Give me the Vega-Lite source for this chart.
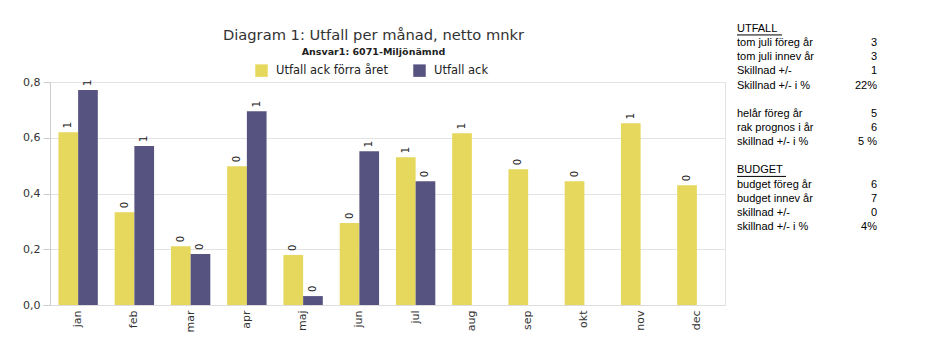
{
  "$schema": "https://vega.github.io/schema/vega-lite/v6.json",
  "background": "white",
  "padding": {"left": 22, "top": 22, "right": 5, "bottom": 5},
  "spacing": 10,
  "config": {
    "font": "DejaVu Sans",
    "view": {"stroke": null},
    "axis": {"labelColor": "#333333", "labelFontSize": 11, "labelFont": "DejaVu Sans", "domainColor": "#cccccc", "tickColor": "#cccccc", "gridColor": "#e3e3e3", "title": null}
  },
  "hconcat": [
    {
      "width": 675,
      "height": 223,
      "view": {"stroke": "#e3e3e3"},
      "title": {
        "text": "Diagram 1: Utfall per månad, netto mnkr",
        "subtitle": "Ansvar1: 6071-Miljönämnd",
        "fontSize": 14.7,
        "fontWeight": "normal",
        "color": "#333333",
        "subtitleFontSize": 9.5,
        "subtitleFontWeight": "bold",
        "subtitleColor": "#222222",
        "subtitlePadding": 4,
        "anchor": "middle",
        "dx": -14,
        "offset": 20
      },
      "data": {
        "values": [
          {"month": "jan", "series": "Utfall ack förra året", "value": 0.62, "label": "1"},
          {"month": "jan", "series": "Utfall ack", "value": 0.771, "label": "1"},
          {"month": "feb", "series": "Utfall ack förra året", "value": 0.333, "label": "0"},
          {"month": "feb", "series": "Utfall ack", "value": 0.57, "label": "1"},
          {"month": "mar", "series": "Utfall ack förra året", "value": 0.211, "label": "0"},
          {"month": "mar", "series": "Utfall ack", "value": 0.183, "label": "0"},
          {"month": "apr", "series": "Utfall ack förra året", "value": 0.498, "label": "0"},
          {"month": "apr", "series": "Utfall ack", "value": 0.695, "label": "1"},
          {"month": "maj", "series": "Utfall ack förra året", "value": 0.179, "label": "0"},
          {"month": "maj", "series": "Utfall ack", "value": 0.032, "label": "0"},
          {"month": "jun", "series": "Utfall ack förra året", "value": 0.294, "label": "0"},
          {"month": "jun", "series": "Utfall ack", "value": 0.552, "label": "1"},
          {"month": "jul", "series": "Utfall ack förra året", "value": 0.53, "label": "1"},
          {"month": "jul", "series": "Utfall ack", "value": 0.444, "label": "0"},
          {"month": "aug", "series": "Utfall ack förra året", "value": 0.616, "label": "1"},
          {"month": "sep", "series": "Utfall ack förra året", "value": 0.487, "label": "0"},
          {"month": "okt", "series": "Utfall ack förra året", "value": 0.444, "label": "0"},
          {"month": "nov", "series": "Utfall ack förra året", "value": 0.652, "label": "1"},
          {"month": "dec", "series": "Utfall ack förra året", "value": 0.43, "label": "0"}
        ]
      },
      "encoding": {
        "x": {
          "field": "month",
          "type": "nominal",
          "sort": ["jan", "feb", "mar", "apr", "maj", "jun", "jul", "aug", "sep", "okt", "nov", "dec"],
          "scale": {"paddingInner": 0.3, "paddingOuter": 0.15},
          "axis": {"labelAngle": 270, "ticks": false, "labelPadding": 5, "domainColor": "#dddddd"}
        },
        "xOffset": {"field": "series", "type": "nominal", "sort": ["Utfall ack förra året", "Utfall ack"]},
        "y": {
          "field": "value",
          "type": "quantitative",
          "scale": {"domain": [0, 0.8], "nice": false},
          "axis": {"values": [0, 0.2, 0.4, 0.6, 0.8], "labelExpr": "replace(format(datum.value, '.1f'), '.', ',')", "tickSize": 7, "labelPadding": 3, "domainColor": "#cccccc"}
        }
      },
      "layer": [
        {
          "mark": {"type": "bar"},
          "encoding": {
            "color": {
              "field": "series",
              "type": "nominal",
              "sort": ["Utfall ack förra året", "Utfall ack"],
              "scale": {"domain": ["Utfall ack förra året", "Utfall ack"], "range": ["#E6D85C", "#575381"]},
              "legend": {
                "title": null,
                "orient": "none",
                "direction": "horizontal",
                "legendX": 205,
                "legendY": -18,
                "symbolType": "square",
                "symbolSize": 156,
                "symbolStrokeWidth": 0,
                "labelFontSize": 11.5,
                "labelColor": "#222222",
                "labelOffset": 8,
                "columnPadding": 25
              }
            }
          }
        },
        {
          "mark": {"type": "text", "angle": 270, "align": "left", "baseline": "middle", "dx": 4, "fontSize": 10, "color": "#222222"},
          "encoding": {"text": {"field": "label"}}
        }
      ]
    },
    {
      "width": 145,
      "height": 145,
      "data": {
        "values": [
          {"row": 0, "label": "UTFALL ", "value": ""},
          {"row": 1, "label": "tom  juli föreg år", "value": "3"},
          {"row": 2, "label": "tom  juli innev år", "value": "3"},
          {"row": 3, "label": "Skillnad +/-", "value": "1"},
          {"row": 4, "label": "Skillnad +/- i %", "value": "22%"},
          {"row": 6, "label": "helår föreg år", "value": "5"},
          {"row": 7, "label": "rak prognos i år", "value": "6"},
          {"row": 8, "label": "skillnad +/- i %", "value": "5 %"},
          {"row": 10, "label": "BUDGET ", "value": ""},
          {"row": 11, "label": "budget föreg år", "value": "6"},
          {"row": 12, "label": "budget innev år", "value": "7"},
          {"row": 13, "label": "skillnad +/-", "value": "0"},
          {"row": 14, "label": "skillnad +/- i %", "value": "4%"}
        ]
      },
      "encoding": {
        "y": {"field": "row", "type": "quantitative", "scale": {"domain": [3.75, 14], "reverse": true, "nice": false, "zero": false}, "axis": null}
      },
      "layer": [
        {
          "mark": {"type": "text", "align": "left", "baseline": "middle", "font": "Liberation Sans", "fontSize": 11, "color": "#000000"},
          "encoding": {
            "x": {"datum": 0, "type": "quantitative", "scale": {"domain": [0, 145], "nice": false}, "axis": null},
            "text": {"field": "label"}
          }
        },
        {
          "mark": {"type": "text", "align": "right", "baseline": "middle", "font": "Liberation Sans", "fontSize": 11, "color": "#000000"},
          "encoding": {
            "x": {"datum": 140, "type": "quantitative"},
            "text": {"field": "value"}
          }
        },
        {
          "transform": [{"filter": "datum.row == 0"}],
          "mark": {"type": "rule", "color": "#000000", "strokeWidth": 1, "yOffset": 6},
          "encoding": {
            "x": {"datum": 0, "type": "quantitative"},
            "x2": {"datum": 45}
          }
        },
        {
          "transform": [{"filter": "datum.row == 10"}],
          "mark": {"type": "rule", "color": "#000000", "strokeWidth": 1, "yOffset": 6},
          "encoding": {
            "x": {"datum": 0, "type": "quantitative"},
            "x2": {"datum": 49}
          }
        }
      ]
    }
  ]
}
